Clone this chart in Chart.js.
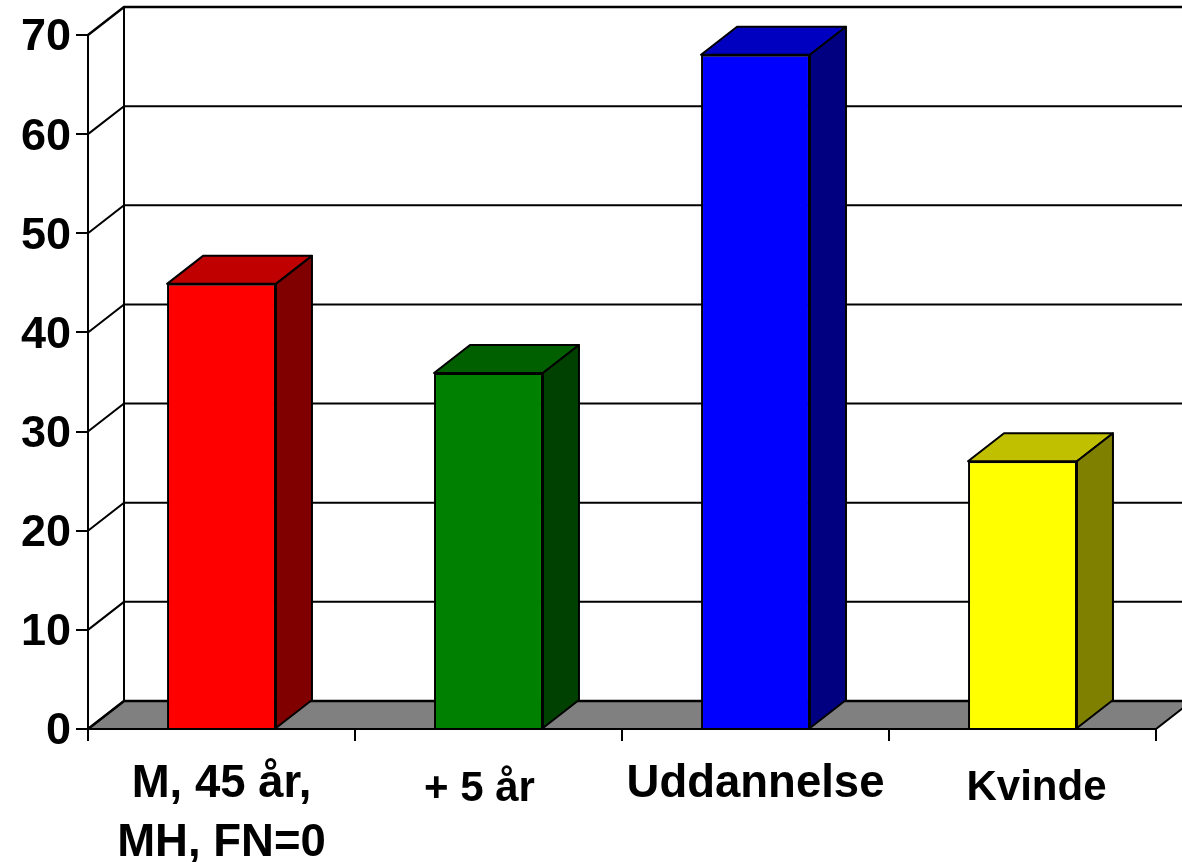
<!DOCTYPE html>
<html><head><meta charset="utf-8">
<style>html,body{margin:0;padding:0;background:#fff;overflow:hidden}#w{position:relative;width:1182px;height:862px}</style>
<script src="https://cdn.jsdelivr.net/npm/chart.js@4"></script>
</head><body><div id="w"><canvas id="c"></canvas></div>
<script>
const categories = [["M, 45 år,","MH, FN=0"],"+ 5 år","Uddannelse","Kvinde"];
const values = [44.9, 35.9, 68.0, 27.0];
const frontColors = ["#ff0000","#008000","#0000ff","#ffff00"];
const topColors = ["#c00000","#006000","#0000c0","#c0c000"];
const sideColors = ["#800000","#004000","#000080","#808000"];
const labelSizes = [45.5,42,45.5,42];
const labelHeights = [1.29,1.2,1.2,1.2];
const labelShiftX = [0,-9,0,14];
const labelShiftY = [-4,5,-2,4];
const yLabelShift = 3;
const yTicks = [0,10,20,30,40,50,60,70];
const DX = 36, DY = 28;
const FONT = '"Liberation Sans", Arial, sans-serif';

const depth3d = {
  id:'depth3d',
  beforeDraw(chart){
    if(chart.$shifted) return;
    chart.scales.x.getLabelItems().forEach((it,i)=>{
      it.options.translation[0]+=labelShiftX[i];
      it.options.translation[1]+=labelShiftY[i];
    });
    chart.scales.y.getLabelItems().forEach(it=>{
      it.options.translation[1]+=yLabelShift;
    });
    chart.$shifted=true;
  },
  beforeDatasetsDraw(chart){
    const {ctx, chartArea:a, scales:{y}} = chart;
    const y0 = y.getPixelForValue(0), yt = y.getPixelForValue(70);
    ctx.save();
    ctx.strokeStyle='#000'; ctx.lineWidth=2; ctx.lineJoin='miter';
    ctx.beginPath();
    ctx.moveTo(a.left,y0); ctx.lineTo(a.right,y0); ctx.lineTo(a.right+DX,y0-DY); ctx.lineTo(a.left+DX,y0-DY); ctx.closePath();
    ctx.fillStyle='#808080'; ctx.fill();
    ctx.stroke();
    yTicks.forEach(v=>{
      const p=y.getPixelForValue(v);
      ctx.beginPath();
      ctx.moveTo(a.left,p); ctx.lineTo(a.left+DX,p-DY); ctx.lineTo(a.right+DX,p-DY);
      ctx.lineWidth = (v===0||v===70)?2.5:2;
      ctx.stroke();
    });
    ctx.lineWidth=2;
    ctx.beginPath(); ctx.moveTo(a.left+DX,y0-DY); ctx.lineTo(a.left+DX,yt-DY); ctx.stroke();
    ctx.restore();
  },
  afterDatasetsDraw(chart){
    const {ctx} = chart;
    ctx.save();
    ctx.strokeStyle='#000'; ctx.lineWidth=2; ctx.lineJoin='round';
    chart.getDatasetMeta(0).data.forEach((b,i)=>{
      const l=b.x-b.width/2, r=b.x+b.width/2, t=b.y, bo=b.base;
      ctx.beginPath();
      ctx.moveTo(l,t); ctx.lineTo(l+DX,t-DY); ctx.lineTo(r+DX,t-DY); ctx.lineTo(r,t); ctx.closePath();
      ctx.fillStyle=topColors[i]; ctx.fill(); ctx.stroke();
      ctx.beginPath();
      ctx.moveTo(r,t); ctx.lineTo(r+DX,t-DY); ctx.lineTo(r+DX,bo-DY); ctx.lineTo(r,bo); ctx.closePath();
      ctx.fillStyle=sideColors[i]; ctx.fill(); ctx.stroke();
    });
    ctx.restore();
  }
};

new Chart(document.getElementById('c'),{
  type:'bar',
  data:{labels:categories,datasets:[{data:values,backgroundColor:frontColors,borderColor:'#000',borderWidth:2,
    categoryPercentage:1,barPercentage:0.408}]},
  plugins:[depth3d],
  options:{
    responsive:true,maintainAspectRatio:false,animation:false,
    layout:{padding:{left:0,right:26,top:35,bottom:0}},
    plugins:{legend:{display:false},title:{display:false},tooltip:{enabled:false}},
    scales:{
      x:{
        afterFit(s){s.height=133;},
        grid:{display:true,drawOnChartArea:false,drawTicks:true,tickLength:12,color:'#000',lineWidth:2,offset:true},
        border:{display:true,color:'#000',width:2},
        ticks:{color:'#000',maxRotation:0,autoSkip:false,padding:18,
          font:c=>({family:FONT,weight:'bold',size:labelSizes[c.index],lineHeight:labelHeights[c.index]})}
      },
      y:{
        min:0,max:70,
        afterFit(s){s.width=88;},
        grid:{display:true,drawOnChartArea:false,drawTicks:true,tickLength:12,color:'#000',lineWidth:2},
        border:{display:true,color:'#000',width:2},
        ticks:{color:'#000',stepSize:10,padding:5,font:{family:FONT,weight:'bold',size:45}}
      }
    }
  },
});
</script></body></html>
